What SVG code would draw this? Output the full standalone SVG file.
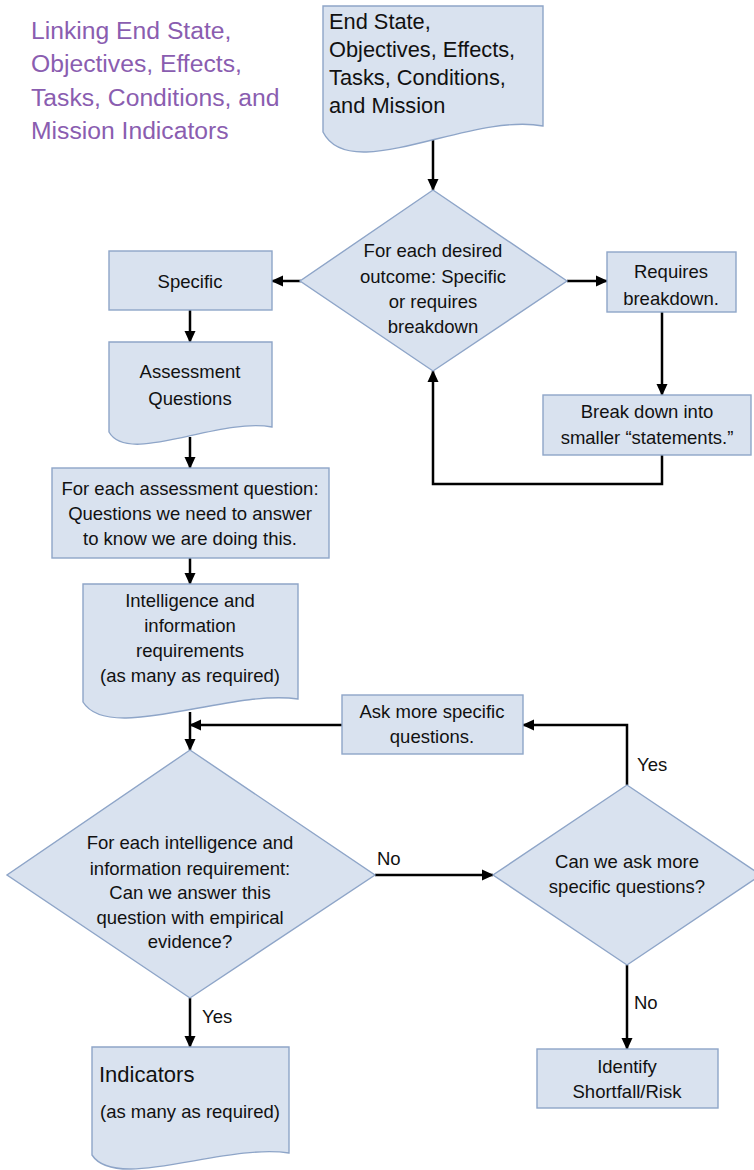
<svg xmlns="http://www.w3.org/2000/svg" width="754" height="1170" viewBox="0 0 754 1170">
<style>
.shape{fill:#d9e2ef;stroke:#8ea5c8;stroke-width:1.4}
.t{font-family:"Liberation Sans",Arial,sans-serif;font-size:18.5px;fill:#111;text-anchor:middle}
.tl{font-family:"Liberation Sans",Arial,sans-serif;fill:#111}
.title{font-family:"Liberation Sans",Arial,sans-serif;font-size:24.7px;fill:#8a5db0}
.c{fill:none;stroke:#000;stroke-width:2.5;marker-end:url(#ah)}
.lbl{font-family:"Liberation Sans",Arial,sans-serif;font-size:18.5px;fill:#111}
</style>
<defs>
<marker id="ah" markerUnits="userSpaceOnUse" markerWidth="12" markerHeight="12" viewBox="0 0 12 12" refX="11" refY="6" orient="auto">
<path d="M0,0.5 L12,6 L0,11.5 Z" fill="#000"/>
</marker>
</defs>
<rect width="754" height="1170" fill="#fff"/>

<g id="title">
<text class="title" x="31" y="39">Linking End State,</text>
<text class="title" x="31" y="72">Objectives, Effects,</text>
<text class="title" x="31" y="106">Tasks, Conditions, and</text>
<text class="title" x="31" y="139">Mission Indicators</text>
</g>

<g id="connectors">
<path class="c" d="M433,140 V190"/>
<path class="c" d="M301,281 H272"/>
<path class="c" d="M567,281 H607"/>
<path class="c" d="M190,310 V342"/>
<path class="c" d="M190,437 V468"/>
<path class="c" d="M190,558 V584"/>
<path class="c" d="M190,712 V750"/>
<path class="c" d="M342,725 H190"/>
<path class="c" d="M627,785 V725 H523"/>
<path class="c" d="M375,875 H493"/>
<path class="c" d="M627,965 V1049"/>
<path class="c" d="M190,998 V1047"/>
<path class="c" d="M662,312 V395"/>
<path class="c" d="M662,455 V484 H433 V371"/>
<text class="lbl" x="377" y="865">No</text>
<text class="lbl" x="637" y="771">Yes</text>
<text class="lbl" x="202" y="1023">Yes</text>
<text class="lbl" x="634" y="1009">No</text>
</g>

<g id="start">
<path class="shape" d="M323,6 H543 V126 C470,112 350,186 323,132 Z"/>
<text class="tl" font-size="21.8" x="329" y="29">End State,</text>
<text class="tl" font-size="21.8" x="329" y="57">Objectives, Effects,</text>
<text class="tl" font-size="21.8" x="329" y="85">Tasks, Conditions,</text>
<text class="tl" font-size="21.8" x="329" y="113">and Mission</text>
</g>

<g id="decision1">
<path class="shape" d="M433,190 L567,281 L433,371 L300,281 Z"/>
<text class="t" x="433" y="257">For each desired</text>
<text class="t" x="433" y="283">outcome: Specific</text>
<text class="t" x="433" y="308">or requires</text>
<text class="t" x="433" y="333">breakdown</text>
</g>

<g id="specific">
<rect class="shape" x="109" y="251" width="163" height="59"/>
<text class="t" x="190" y="288">Specific</text>
</g>

<g id="requires">
<rect class="shape" x="607" y="252" width="129" height="60"/>
<text class="t" x="671" y="278">Requires</text>
<text class="t" x="671" y="305">breakdown.</text>
</g>

<g id="breakdown">
<rect class="shape" x="543" y="395" width="208" height="60"/>
<text class="t" x="647" y="418">Break down into</text>
<text class="t" x="647" y="444">smaller “statements.”</text>
</g>

<g id="assessment">
<path class="shape" d="M109,342 H272 V427 C218,417 128,466 109,432 Z"/>
<text class="t" x="190" y="378">Assessment</text>
<text class="t" x="190" y="405">Questions</text>
</g>

<g id="foreach">
<rect class="shape" x="52" y="468" width="277" height="90"/>
<text class="t" x="190" y="495">For each assessment question:</text>
<text class="t" x="190" y="520">Questions we need to answer</text>
<text class="t" x="190" y="545">to know we are doing this.</text>
</g>

<g id="requirements">
<path class="shape" d="M83,584 H298 V699 C227,689 109,744 83,702 Z"/>
<text class="t" x="190" y="607">Intelligence and</text>
<text class="t" x="190" y="632">information</text>
<text class="t" x="190" y="657">requirements</text>
<text class="t" x="190" y="682">(as many as required)</text>
</g>

<g id="ask">
<rect class="shape" x="342" y="695" width="181" height="59"/>
<text class="t" x="432" y="718">Ask more specific</text>
<text class="t" x="432" y="743">questions.</text>
</g>

<g id="decision2">
<path class="shape" d="M190,750 L375,875 L190,998 L7,875 Z"/>
<text class="t" x="190" y="849">For each intelligence and</text>
<text class="t" x="190" y="875">information requirement:</text>
<text class="t" x="190" y="899">Can we answer this</text>
<text class="t" x="190" y="924">question with empirical</text>
<text class="t" x="190" y="948">evidence?</text>
</g>

<g id="decision3">
<path class="shape" d="M627,785 L761,875 L627,965 L493,875 Z"/>
<text class="t" x="627" y="868">Can we ask more</text>
<text class="t" x="627" y="893">specific questions?</text>
</g>

<g id="indicators">
<path class="shape" d="M92,1047 H289 V1153 C224,1143 116,1192 92,1155 Z"/>
<text class="tl" font-size="22" x="99" y="1082">Indicators</text>
<text class="tl" font-size="18.5" x="100" y="1118">(as many as required)</text>
</g>

<g id="shortfall">
<rect class="shape" x="537" y="1049" width="181" height="59"/>
<text class="t" x="627" y="1073">Identify</text>
<text class="t" x="627" y="1098">Shortfall/Risk</text>
</g>
</svg>
